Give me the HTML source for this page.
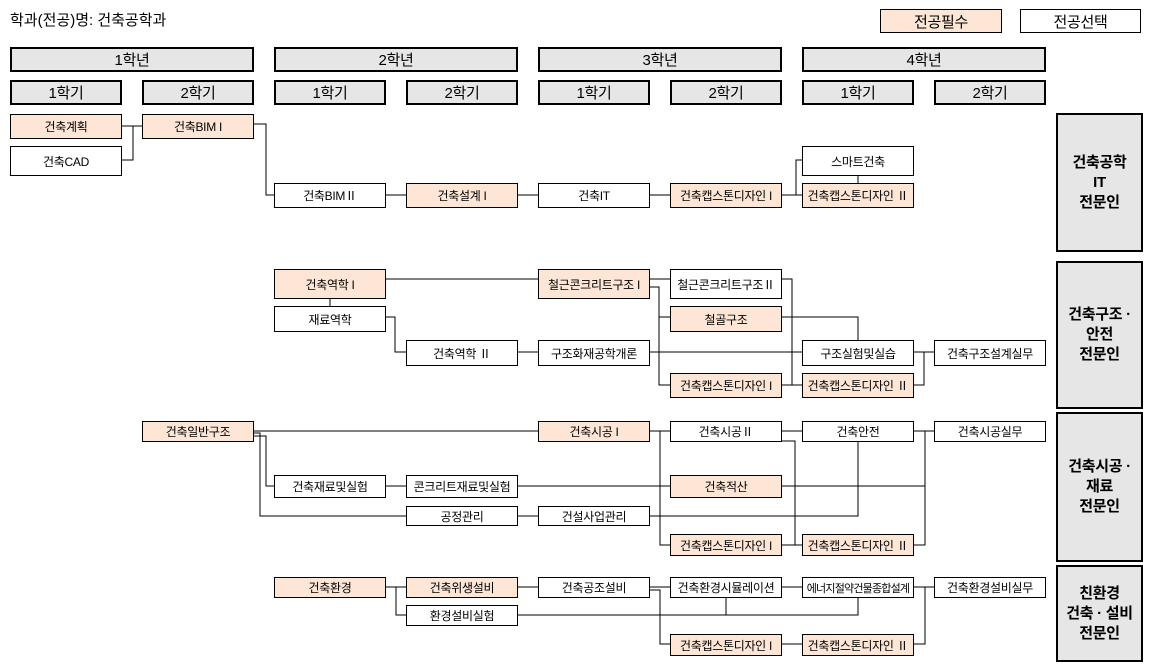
<!DOCTYPE html>
<html><head><meta charset="utf-8"><style>
body{margin:0;width:1150px;height:670px;background:#fff;position:relative;overflow:hidden;font-family:"Liberation Sans","Noto Sans CJK KR","NanumGothic",sans-serif;}
.b{position:absolute;box-sizing:border-box;border:1px solid #000;background:#fff;font-size:12px;display:flex;align-items:center;justify-content:center;white-space:nowrap;letter-spacing:-0.3px}
.p{background:#fde6d6}
.h{background:#e6e6e6;border:2px solid #000;font-size:15px}
.r{background:#e6e6e6;border:2px solid #000;font-size:15px;font-weight:bold;text-align:center;line-height:20px}
svg{position:absolute;left:0;top:0}
</style></head><body>
<div style="position:absolute;left:10px;top:9px;font-size:15px">학과(전공)명: 건축공학과</div>
<div class="b p" style="left:880px;top:9px;width:122px;height:24px;font-size:15px">전공필수</div>
<div class="b" style="left:1020px;top:9px;width:121px;height:24px;font-size:15px">전공선택</div>

<div class="b h" style="left:10px;top:47px;width:244px;height:25px">1학년</div>
<div class="b h" style="left:274px;top:47px;width:244px;height:25px">2학년</div>
<div class="b h" style="left:538px;top:47px;width:244px;height:25px">3학년</div>
<div class="b h" style="left:802px;top:47px;width:244px;height:25px">4학년</div>
<div class="b h" style="left:10px;top:80px;width:112px;height:25px">1학기</div>
<div class="b h" style="left:142px;top:80px;width:112px;height:25px">2학기</div>
<div class="b h" style="left:274px;top:80px;width:112px;height:25px">1학기</div>
<div class="b h" style="left:406px;top:80px;width:112px;height:25px">2학기</div>
<div class="b h" style="left:538px;top:80px;width:112px;height:25px">1학기</div>
<div class="b h" style="left:670px;top:80px;width:112px;height:25px">2학기</div>
<div class="b h" style="left:802px;top:80px;width:112px;height:25px">1학기</div>
<div class="b h" style="left:934px;top:80px;width:112px;height:25px">2학기</div>

<div class="b r" style="left:1056px;top:113px;width:87px;height:139px">건축공학<br>IT<br>전문인</div>
<div class="b r" style="left:1056px;top:261px;width:87px;height:148px">건축구조 ·<br>안전<br>전문인</div>
<div class="b r" style="left:1056px;top:412px;width:87px;height:150px">건축시공 ·<br>재료<br>전문인</div>
<div class="b r" style="left:1056px;top:565px;width:87px;height:97px">친환경<br>건축 · 설비<br>전문인</div>

<svg width="1150" height="670" fill="none" stroke="#000" stroke-width="1">
<path d="M122 126H142M133 126V160H122M254 124H266V195H274M386 195H406M518 195H538M650 195H670M782 195H802M796 195V160H802M858 175V183"/>
<path d="M386 279H538M330 298V306M386 317H395V352H406M518 352H538M650 352H802M650 279H670M650 287H659V385H670M659 317H670M782 279H792V385H802M782 317H858V340M914 352H934M924 352V385H914M782 385H802"/>
<path d="M254 431H538M254 433H260V516H406M254 436H266V486H274M386 486H406M518 486H670M782 486H925M518 516H538M650 516H858V441M650 431H670M660 431V545H670M782 431H802M782 441H795V545M782 545H802M914 431H934M925 431V545H914"/>
<path d="M386 587H406M396 587V615H406M518 587H538M650 587H670M650 590H660V644H670M782 587H802M914 587H934M925 587V644H914M518 615H858V597M726 597V615M782 644H802"/>
</svg>

<div class="b p" style="left:10px;top:114px;width:112px;height:25px">건축계획</div>
<div class="b" style="left:10px;top:146px;width:112px;height:30px">건축CAD</div>
<div class="b p" style="left:142px;top:114px;width:112px;height:25px">건축BIM I</div>
<div class="b" style="left:274px;top:183px;width:112px;height:25px">건축BIMⅡ</div>
<div class="b p" style="left:406px;top:183px;width:112px;height:25px">건축설계 I</div>
<div class="b" style="left:538px;top:183px;width:112px;height:25px">건축IT</div>
<div class="b p" style="left:670px;top:183px;width:112px;height:25px">건축캡스톤디자인 I</div>
<div class="b" style="left:802px;top:146px;width:112px;height:30px">스마트건축</div>
<div class="b p" style="left:802px;top:183px;width:112px;height:25px">건축캡스톤디자인 Ⅱ</div>

<div class="b p" style="left:274px;top:269px;width:112px;height:30px">건축역학 I</div>
<div class="b" style="left:274px;top:306px;width:112px;height:26px">재료역학</div>
<div class="b" style="left:406px;top:340px;width:112px;height:26px">건축역학 Ⅱ</div>
<div class="b p" style="left:538px;top:269px;width:112px;height:30px">철근콘크리트구조 I</div>
<div class="b" style="left:538px;top:340px;width:112px;height:26px">구조화재공학개론</div>
<div class="b" style="left:670px;top:269px;width:112px;height:30px">철근콘크리트구조Ⅱ</div>
<div class="b p" style="left:670px;top:306px;width:112px;height:26px">철골구조</div>
<div class="b p" style="left:670px;top:373px;width:112px;height:25px">건축캡스톤디자인 I</div>
<div class="b" style="left:802px;top:340px;width:112px;height:26px">구조실험및실습</div>
<div class="b p" style="left:802px;top:373px;width:112px;height:25px">건축캡스톤디자인 Ⅱ</div>
<div class="b" style="left:934px;top:340px;width:112px;height:26px">건축구조설계실무</div>

<div class="b p" style="left:142px;top:421px;width:112px;height:21px">건축일반구조</div>
<div class="b" style="left:274px;top:475px;width:112px;height:23px">건축재료및실험</div>
<div class="b" style="left:406px;top:475px;width:112px;height:23px">콘크리트재료및실험</div>
<div class="b" style="left:406px;top:506px;width:112px;height:20px">공정관리</div>
<div class="b p" style="left:538px;top:421px;width:112px;height:21px">건축시공 I</div>
<div class="b" style="left:538px;top:506px;width:112px;height:20px">건설사업관리</div>
<div class="b" style="left:670px;top:421px;width:112px;height:21px">건축시공Ⅱ</div>
<div class="b p" style="left:670px;top:475px;width:112px;height:23px">건축적산</div>
<div class="b p" style="left:670px;top:534px;width:112px;height:22px">건축캡스톤디자인 I</div>
<div class="b" style="left:802px;top:421px;width:112px;height:21px">건축안전</div>
<div class="b p" style="left:802px;top:534px;width:112px;height:22px">건축캡스톤디자인 Ⅱ</div>
<div class="b" style="left:934px;top:421px;width:112px;height:21px">건축시공실무</div>

<div class="b p" style="left:274px;top:577px;width:112px;height:21px">건축환경</div>
<div class="b p" style="left:406px;top:577px;width:112px;height:21px">건축위생설비</div>
<div class="b" style="left:406px;top:605px;width:112px;height:21px">환경설비실험</div>
<div class="b" style="left:538px;top:577px;width:112px;height:21px">건축공조설비</div>
<div class="b" style="left:670px;top:577px;width:112px;height:21px">건축환경시뮬레이션</div>
<div class="b p" style="left:670px;top:634px;width:112px;height:22px">건축캡스톤디자인 I</div>
<div class="b" style="left:802px;top:577px;width:112px;height:21px;font-size:11px;letter-spacing:-0.8px">에너지절약건물종합설계</div>
<div class="b p" style="left:802px;top:634px;width:112px;height:22px">건축캡스톤디자인 Ⅱ</div>
<div class="b" style="left:934px;top:577px;width:112px;height:21px">건축환경설비실무</div>
</body></html>
